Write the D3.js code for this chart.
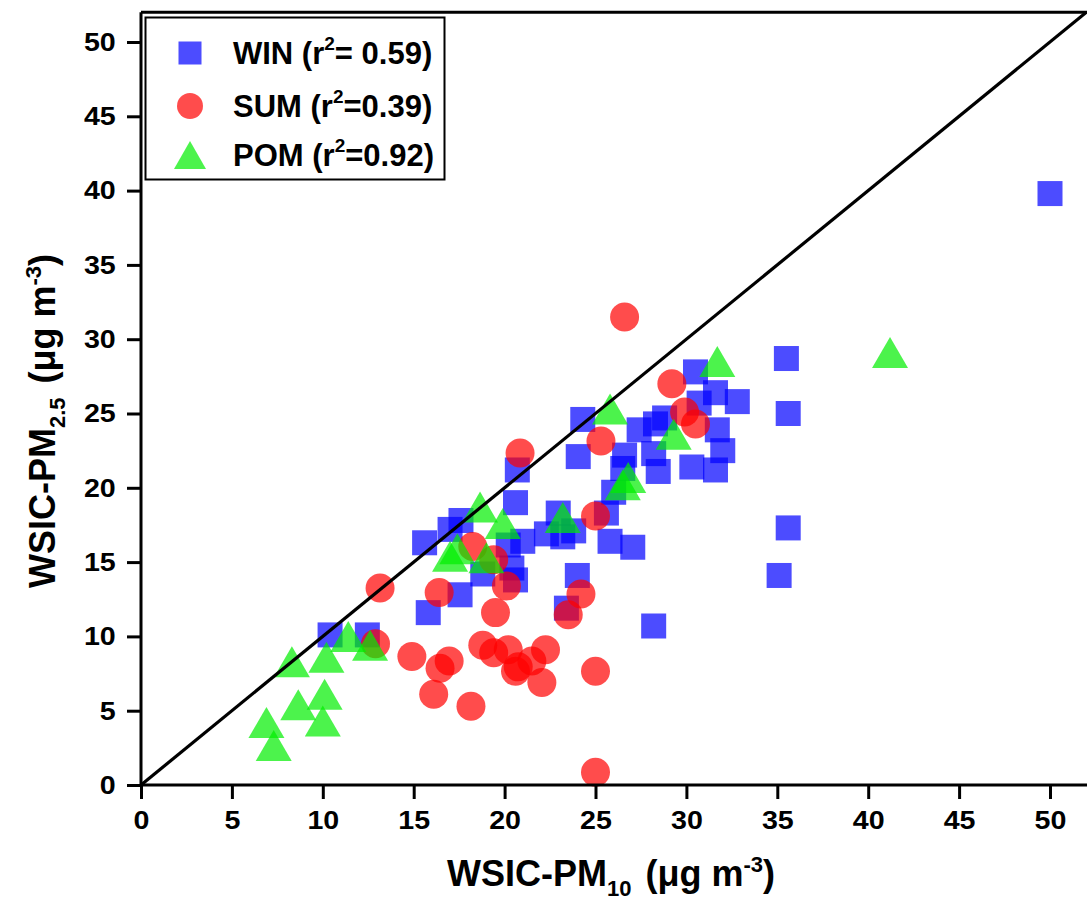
<!DOCTYPE html>
<html>
<head>
<meta charset="utf-8">
<script src="https://cdn.jsdelivr.net/npm/d3@7"></script>
<style>
  html, body { margin: 0; padding: 0; background: #ffffff; }
  svg { display: block; }
  text { font-family: "Liberation Sans", Arial, sans-serif; font-weight: bold; fill: #000; }
</style>
</head>
<body>
<svg id="chart" width="1087" height="906"></svg>
<script>
// ---- Data (WSIC-PM10 vs WSIC-PM2.5, µg m-3) ----
const winX = [50.0, 35.5, 35.6, 35.6, 35.1, 28.2, 30.5, 31.6, 32.8, 30.7, 31.7, 32.0, 31.6, 30.3, 28.45, 28.2, 27.4, 28.3, 28.8, 26.6, 26.5, 26.0, 25.6, 24.3, 24.05, 25.8, 27.05, 22.95, 22.3, 23.2, 23.8, 24.0, 23.4, 20.7, 20.6, 21.0, 20.2, 20.4, 20.6, 18.8, 17.6, 17.0, 15.6, 17.55, 15.8, 10.4, 12.45];
const winY = [39.8, 28.7, 25.0, 17.3, 14.1, 10.7, 27.8, 26.4, 25.8, 25.7, 23.9, 22.5, 21.2, 21.4, 21.1, 22.3, 23.9, 24.3, 24.7, 22.2, 21.3, 19.7, 18.3, 24.6, 22.1, 16.4, 16.0, 18.3, 16.9, 16.7, 17.1, 14.1, 11.9, 21.2, 19.0, 16.4, 16.15, 14.6, 13.8, 14.2, 17.8, 17.2, 16.3, 12.8, 11.6, 10.1, 10.1];

const sumX = [26.6, 29.2, 29.9, 30.5, 25.3, 20.85, 25.0, 18.25, 19.4, 20.1, 16.4, 19.5, 24.2, 23.5, 13.15, 12.9, 14.9, 16.95, 16.45, 16.1, 18.15, 18.8, 19.4, 20.2, 20.6, 20.75, 21.5, 22.25, 22.05, 25.0, 25.0];
const sumY = [31.5, 27.0, 25.1, 24.3, 23.15, 22.35, 18.1, 16.05, 15.15, 13.4, 12.95, 11.6, 12.85, 11.45, 13.25, 9.5, 8.65, 8.35, 7.85, 6.1, 5.3, 9.4, 8.9, 9.1, 7.65, 7.95, 8.35, 9.1, 6.9, 7.65, 0.85];

const pomX = [41.2, 31.7, 25.8, 29.3, 26.8, 26.5, 23.2, 18.65, 19.9, 17.0, 17.4, 19.0, 11.4, 12.6, 8.3, 10.2, 10.1, 8.65, 10.0, 6.9, 7.3];
const pomY = [29.1, 28.5, 25.3, 23.6, 20.7, 20.2, 18.0, 18.7, 17.6, 15.4, 15.9, 15.3, 10.0, 9.4, 8.3, 8.6, 6.1, 5.4, 4.3, 4.2, 2.65];

const xTicks = [0, 5, 10, 15, 20, 25, 30, 35, 40, 45, 50];
const yTicks = [0, 5, 10, 15, 20, 25, 30, 35, 40, 45, 50];

const seriesNames = ["WIN", "SUM", "POM"];
const seriesR2 = ["= 0.59)", "=0.39)", "=0.92)"];
const seriesColors = ["#0000ff", "#ff0000", "#00ee00"];

// ---- Layout ----
const svg = d3.select("#chart");
svg.append("rect").attr("width", 1087).attr("height", 906).attr("fill", "#ffffff");

const left = 141, bottom = 785;
const x = d3.scaleLinear().domain([0, 52]).range([left, left + 52 * 18.18]);
const y = d3.scaleLinear().domain([0, 52]).range([bottom, bottom - 52 * 14.86]);

const opacity = 0.7;

// frame top
svg.append("line")
  .attr("x1", x(0)).attr("x2", 1090)
  .attr("y1", y(52)).attr("y2", y(52))
  .attr("stroke", "#000").attr("stroke-width", 3);

// markers
const sqSize = 25;
const g = svg.append("g");
const winData = winX.map((v, i) => ({x: v, y: winY[i]}));
const sumData = sumX.map((v, i) => ({x: v, y: sumY[i]}));
const pomData = pomX.map((v, i) => ({x: v, y: pomY[i]}));

g.selectAll("rect.win").data(winData).enter().append("rect")
  .attr("class", "win")
  .attr("x", d => x(d.x) - sqSize / 2)
  .attr("y", d => y(d.y) - sqSize / 2)
  .attr("width", sqSize).attr("height", sqSize)
  .attr("fill", seriesColors[0]).attr("fill-opacity", opacity);

g.selectAll("circle.sum").data(sumData).enter().append("circle")
  .attr("class", "sum")
  .attr("cx", d => x(d.x)).attr("cy", d => y(d.y)).attr("r", 14.5)
  .attr("fill", seriesColors[1]).attr("fill-opacity", opacity);

function triPath(w, h) {
  return `M0,${-h / 2}L${w / 2},${h / 2}L${-w / 2},${h / 2}Z`;
}
g.selectAll("path.pom").data(pomData).enter().append("path")
  .attr("class", "pom")
  .attr("d", triPath(36, 31))
  .attr("transform", d => `translate(${x(d.x)},${y(d.y)})`)
  .attr("fill", seriesColors[2]).attr("fill-opacity", opacity);

// 1:1 line
svg.append("line")
  .attr("x1", x(0)).attr("y1", y(0))
  .attr("x2", x(52)).attr("y2", y(52))
  .attr("stroke", "#000").attr("stroke-width", 3.2);

// axes
const xAxis = d3.axisBottom(x).tickValues(xTicks).tickSize(14).tickSizeOuter(0).tickPadding(12);
const yAxis = d3.axisLeft(y).tickValues(yTicks).tickSize(14).tickSizeOuter(0).tickPadding(9);

const gx = svg.append("g").attr("transform", `translate(0,${bottom})`).call(xAxis);
const gy = svg.append("g").attr("transform", `translate(${left},0)`).call(yAxis);
[gx, gy].forEach(a => {
  a.attr("font-size", 26).attr("font-family", "Liberation Sans, Arial, sans-serif").attr("font-weight", "bold");
  a.select(".domain").attr("stroke", "#000").attr("stroke-width", 3);
  a.selectAll(".tick line").attr("stroke", "#000").attr("stroke-width", 3);
  a.selectAll(".tick text").style("font-size", "26px").attr("fill", "#000")
    .attr("transform", "scale(1.1,1)");
});
gx.select(".domain").attr("d", `M${x(0)},0H1090`);
gy.select(".domain").attr("d", `M0,${y(0)}V${y(52)}`);

// axis titles
const xt = svg.append("text").attr("x", 611).attr("y", 886).attr("text-anchor", "middle").style("font-size", "36px");
xt.append("tspan").text("WSIC-PM");
xt.append("tspan").style("font-size", "22px").attr("dy", 10).text("10");
xt.append("tspan").attr("dy", -10).attr("dx", 14).text("(μg m");
xt.append("tspan").style("font-size", "22px").attr("dy", -14).text("-3");
xt.append("tspan").attr("dy", 14).text(")");

const yt = svg.append("text").attr("transform", "translate(55,421) rotate(-90)").attr("text-anchor", "middle").style("font-size", "36px");
yt.append("tspan").text("WSIC-PM");
yt.append("tspan").style("font-size", "22px").attr("dy", 10).text("2.5");
yt.append("tspan").attr("dy", -10).attr("dx", 14).text("(μg m");
yt.append("tspan").style("font-size", "22px").attr("dy", -14).text("-3");
yt.append("tspan").attr("dy", 14).text(")");

// legend
const lg = svg.append("g");
lg.append("rect").attr("x", 145.5).attr("y", 17.5).attr("width", 299).attr("height", 162)
  .attr("fill", "#fff").attr("stroke", "#000").attr("stroke-width", 2);
const rowY = [53, 106, 155];
const mx = 190;
lg.append("rect").attr("x", mx - 11.5).attr("y", rowY[0] - 11.5).attr("width", 23).attr("height", 23)
  .attr("fill", seriesColors[0]).attr("fill-opacity", opacity);
lg.append("circle").attr("cx", mx).attr("cy", rowY[1]).attr("r", 13)
  .attr("fill", seriesColors[1]).attr("fill-opacity", opacity);
lg.append("path").attr("d", triPath(32, 28)).attr("transform", `translate(${mx},${rowY[2]})`)
  .attr("fill", seriesColors[2]).attr("fill-opacity", opacity);
seriesNames.forEach((n, i) => {
  const t = lg.append("text").attr("x", 233).attr("y", rowY[i] + 11).style("font-size", "31px");
  t.append("tspan").text(n + " (r");
  t.append("tspan").style("font-size", "19px").attr("dy", -14).text("2");
  t.append("tspan").attr("dy", 14).text(seriesR2[i]);
});
</script>
</body>
</html>
